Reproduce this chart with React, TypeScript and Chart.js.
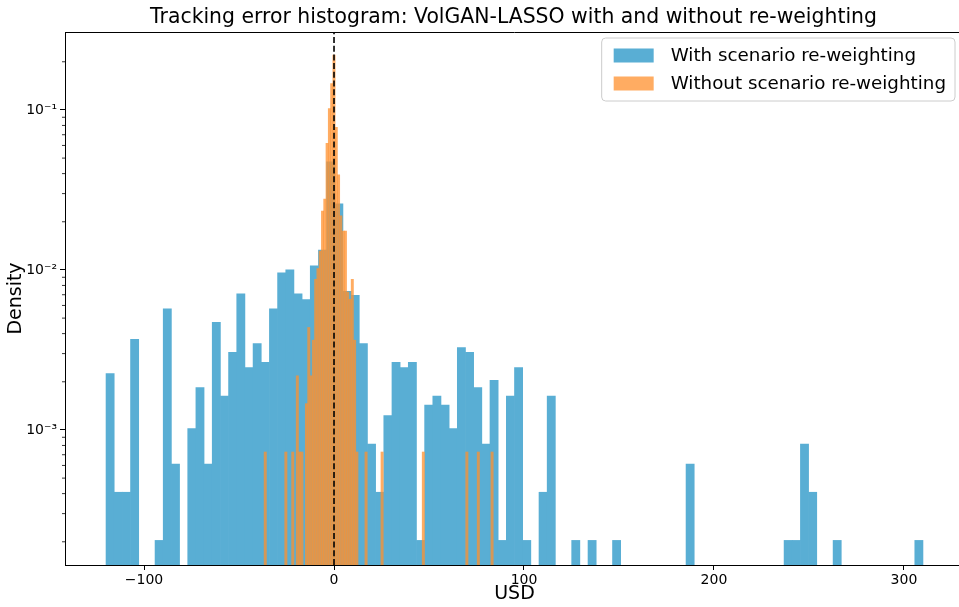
import React, { useEffect, useRef } from 'react';
import { Chart, registerables } from 'chart.js';

Chart.register(...registerables);

const TITLE = 'Tracking error histogram: VolGAN-LASSO with and without re-weighting';
const X_AXIS_LABEL = 'USD';
const Y_AXIS_LABEL = 'Density';
const LABEL_WITH = 'With scenario re-weighting';
const LABEL_WITHOUT = 'Without scenario re-weighting';

// Histogram WITH scenario re-weighting: 100 equal-width bins
const WITH_BIN_START = -120.0;
const WITH_BIN_WIDTH = 4.3;
const WITH_DENSITY = [
  0.00225, 0.000408, 0.000408, 0.00368, 0, 0, 0.000204, 0.00572, 0.000613, 0,
  0.00102, 0.00184, 0.000613, 0.0047, 0.00163, 0.00306, 0.00708, 0.00245, 0.00347, 0.00265,
  0.00572, 0.0096, 0.01, 0.00708, 0.00653, 0.0106, 0.0133, 0.0474, 0.0259, 0.00735,
  0.00694, 0.00347, 0.000817, 0.000408, 0.00123, 0.00265, 0.00245, 0.00265, 0.000204, 0.00143,
  0.00163, 0.00143, 0.00102, 0.00327, 0.00306, 0.00184, 0.000817, 0.00204, 0.000204, 0.00163,
  0.00245, 0.000204, 0, 0.000408, 0.00163, 0, 0, 0.000204, 0, 0.000204,
  0, 0, 0.000204, 0, 0, 0, 0, 0, 0, 0,
  0, 0.000613, 0, 0, 0, 0, 0, 0, 0, 0,
  0, 0, 0, 0.000204, 0.000204, 0.000817, 0.000408, 0, 0, 0.000204,
  0, 0, 0, 0, 0, 0, 0, 0, 0, 0.000204,
];

// Histogram WITHOUT scenario re-weighting: 100 equal-width bins
const WITHOUT_BIN_START = -36.8;
const WITHOUT_BIN_WIDTH = 1.206;
const WITHOUT_DENSITY = [
  0.000728, 0, 0, 0, 0, 0, 0, 0, 0, 0.000728,
  0, 0, 0.000728, 0, 0.00218, 0.000728, 0.000728, 0, 0.00146, 0.00437,
  0.00218, 0.00364, 0.00874, 0.0102, 0.0131, 0.0233, 0.0277, 0.0619, 0.102, 0.146,
  0.22, 0.0779, 0.0393, 0.0218, 0.0175, 0.0175, 0.00728, 0.00655, 0.00874, 0.00364,
  0.000728, 0, 0, 0, 0.000728, 0, 0, 0, 0, 0,
  0, 0.000728, 0, 0, 0, 0, 0, 0, 0, 0,
  0, 0, 0, 0, 0, 0, 0, 0, 0, 0.000728,
  0, 0, 0, 0, 0, 0, 0, 0, 0, 0,
  0, 0, 0, 0, 0, 0, 0, 0, 0.000728, 0,
  0, 0, 0, 0.000728, 0, 0, 0, 0, 0, 0.000728,
];

const ZERO_LINE_X = 0;

const X_MIN = -141.6;
const X_MAX = 331.6;
const Y_MIN = 1.432e-4;
const Y_MAX = 0.307;

const X_TICKS = [-100, 0, 100, 200, 300];
const Y_TICKS = [
  2e-4, 3e-4, 4e-4, 5e-4, 6e-4, 7e-4, 8e-4, 9e-4,
  1e-3, 2e-3, 3e-3, 4e-3, 5e-3, 6e-3, 7e-3, 8e-3, 9e-3,
  1e-2, 2e-2, 3e-2, 4e-2, 5e-2, 6e-2, 7e-2, 8e-2, 9e-2,
  1e-1, 2e-1,
];

const COLOR_WITH = 'rgb(89,174,212)';
const COLOR_WITHOUT = 'rgba(255,144,46,0.75)';
const FONT = '"DejaVu Sans", sans-serif';

const isMajor = (v: number) => {
  const l = Math.log10(v);
  return Math.abs(l - Math.round(l)) < 1e-9;
};

const SUP: Record<string, string> = {
  '-': '\u207B', '0': '\u2070', '1': '\u00B9', '2': '\u00B2', '3': '\u00B3',
  '4': '\u2074', '5': '\u2075', '6': '\u2076', '7': '\u2077', '8': '\u2078', '9': '\u2079',
};
const powLabel = (v: number) => {
  const e = String(Math.round(Math.log10(v)));
  return '10' + e.split('').map((c) => SUP[c]).join('');
};

const framePlugin = {
  id: 'mplFrame',
  afterDraw(chart: any) {
    const { ctx, chartArea: a, scales } = chart;
    ctx.save();
    // title centred over the axes
    ctx.fillStyle = '#000';
    ctx.font = `20.4px ${FONT}`;
    ctx.textAlign = 'center';
    ctx.textBaseline = 'middle';
    ctx.fillText(TITLE, (a.left + a.right) / 2 - 1, 18);
    // top spine
    ctx.strokeStyle = '#000';
    ctx.lineWidth = 1;
    ctx.beginPath();
    ctx.moveTo(a.left, Math.round(a.top) + 0.5);
    ctx.lineTo(a.right, Math.round(a.top) + 0.5);
    ctx.stroke();
    // minor y ticks
    ctx.lineWidth = 0.8;
    const ys = scales.y;
    for (const v of Y_TICKS) {
      if (isMajor(v)) continue;
      const py = ys.getPixelForValue(v);
      ctx.beginPath();
      ctx.moveTo(a.left - 3, py);
      ctx.lineTo(a.left, py);
      ctx.stroke();
    }
    ctx.restore();
  },
};

const legendPlugin = {
  id: 'mplLegend',
  afterDraw(chart: any) {
    const { ctx, chartArea: a } = chart;
    const fs = 18.3;
    const items = chart.data.datasets.filter((d: any) => d.showInLegend);
    items.sort((p: any, q: any) => p.legendRank - q.legendRank);
    ctx.save();
    ctx.font = `${fs}px ${FONT}`;
    const textW = Math.max(...items.map((it: any) => ctx.measureText(it.label).width));
    const padL = 12;
    const padR = 9;
    const padV = 8;
    const handleW = 40;
    const handleH = 14;
    const textPad = 17;
    const rowH = 19;
    const spacing = 9;
    const w = padL + padR + handleW + textPad + textW;
    const h = padV * 2 + items.length * rowH + (items.length - 1) * spacing;
    const right = 955;
    const top = a.top + 6;
    const left = right - w;
    const r = 4;
    ctx.beginPath();
    ctx.moveTo(left + r, top);
    ctx.lineTo(left + w - r, top);
    ctx.quadraticCurveTo(left + w, top, left + w, top + r);
    ctx.lineTo(left + w, top + h - r);
    ctx.quadraticCurveTo(left + w, top + h, left + w - r, top + h);
    ctx.lineTo(left + r, top + h);
    ctx.quadraticCurveTo(left, top + h, left, top + h - r);
    ctx.lineTo(left, top + r);
    ctx.quadraticCurveTo(left, top, left + r, top);
    ctx.closePath();
    ctx.fillStyle = 'rgba(255,255,255,0.8)';
    ctx.fill();
    ctx.strokeStyle = '#cccccc';
    ctx.lineWidth = 1;
    ctx.stroke();
    items.forEach((it: any, i: number) => {
      const cy = top + padV + rowH / 2 + i * (rowH + spacing);
      ctx.fillStyle = it.backgroundColor;
      ctx.fillRect(left + padL, cy - handleH / 2, handleW, handleH);
      ctx.fillStyle = '#000';
      ctx.textBaseline = 'middle';
      ctx.textAlign = 'left';
      ctx.fillText(it.label, left + padL + handleW + textPad, cy + 1);
    });
    ctx.restore();
  },
};

export default function App() {
  const ref = useRef<HTMLCanvasElement>(null);

  useEffect(() => {
    const canvas = ref.current;
    if (!canvas) return;
    Chart.defaults.font.family = FONT;

    const withData = WITH_DENSITY.map((d, i) => ({
      x: WITH_BIN_START + (i + 0.5) * WITH_BIN_WIDTH,
      y: d > 0 ? d : null,
    }));
    const withoutData = WITHOUT_DENSITY.map((d, i) => ({
      x: WITHOUT_BIN_START + (i + 0.5) * WITHOUT_BIN_WIDTH,
      y: d > 0 ? d : null,
    }));

    const chart = new Chart(canvas, {
      type: 'bar',
      data: {
        datasets: [
          {
            type: 'line',
            label: 'zero',
            data: [
              { x: ZERO_LINE_X, y: Y_MIN },
              { x: ZERO_LINE_X, y: Y_MAX },
            ],
            borderColor: '#000',
            borderWidth: 1.6,
            borderDash: [6, 2.7],
            pointRadius: 0,
            xAxisID: 'x',
            yAxisID: 'y',
            order: 0,
          } as any,
          {
            type: 'bar',
            label: LABEL_WITHOUT,
            data: withoutData,
            backgroundColor: COLOR_WITHOUT,
            borderWidth: 0,
            barPercentage: 1,
            categoryPercentage: 1,
            grouped: false,
            xAxisID: 'x2',
            yAxisID: 'y',
            order: 1,
            showInLegend: true,
            legendRank: 1,
          } as any,
          {
            type: 'bar',
            label: LABEL_WITH,
            data: withData,
            backgroundColor: COLOR_WITH,
            borderWidth: 0,
            barPercentage: 1,
            categoryPercentage: 1,
            grouped: false,
            xAxisID: 'x',
            yAxisID: 'y',
            order: 2,
            showInLegend: true,
            legendRank: 0,
          } as any,
        ],
      },
      options: {
        responsive: false,
        animation: false,
        devicePixelRatio: 1,
        layout: { padding: { top: 32, left: 0, right: 0, bottom: 0 } },
        plugins: {
          legend: { display: false },
          tooltip: { enabled: false },
          title: { display: false },
        },
        scales: {
          x: {
            type: 'linear',
            position: 'bottom',
            offset: false,
            min: X_MIN,
            max: X_MAX,
            afterBuildTicks: (s: any) => {
              s.ticks = X_TICKS.map((v) => ({ value: v }));
            },
            afterFit: (s: any) => {
              s.height = 42;
            },
            ticks: {
              autoSkip: false,
              maxRotation: 0,
              padding: 2,
              color: '#000',
              font: { family: FONT, size: 14 },
              callback: (v: any) => (v < 0 ? '\u2212' + Math.abs(v) : String(v)),
            },
            grid: {
              display: true,
              offset: false,
              drawOnChartArea: false,
              drawTicks: true,
              tickLength: 5,
              tickColor: '#000',
              tickWidth: 1,
            },
            border: { display: true, color: '#000', width: 1, z: 1 },
            title: {
              display: true,
              text: X_AXIS_LABEL,
              color: '#000',
              font: { family: FONT, size: 19 },
              padding: { top: 0, bottom: 2 },
            },
          },
          x2: {
            type: 'linear',
            position: 'bottom',
            offset: false,
            min: X_MIN,
            max: X_MAX,
            display: false,
            grid: { offset: false },
          },
          y: {
            type: 'logarithmic',
            position: 'left',
            min: Y_MIN,
            max: Y_MAX,
            afterBuildTicks: (s: any) => {
              s.ticks = Y_TICKS.map((v) => ({ value: v, major: isMajor(v) }));
            },
            afterFit: (s: any) => {
              s.width = 65;
            },
            ticks: {
              autoSkip: false,
              padding: 3,
              color: '#000',
              font: { family: FONT, size: 14 },
              callback: (v: any) => (isMajor(Number(v)) ? powLabel(Number(v)) : ''),
            },
            grid: {
              display: true,
              drawOnChartArea: false,
              drawTicks: true,
              tickLength: 5,
              tickWidth: 1,
              tickColor: (c: any) => (c.tick && isMajor(c.tick.value) ? '#000' : 'rgba(0,0,0,0)'),
            },
            border: { display: true, color: '#000', width: 1, z: 1 },
            title: {
              display: true,
              text: Y_AXIS_LABEL,
              color: '#000',
              font: { family: FONT, size: 19 },
              padding: { top: 5, bottom: 0 },
            },
          },
        },
      } as any,
      plugins: [framePlugin, legendPlugin],
    });

    return () => chart.destroy();
  }, []);

  return (
    <div
      style={{
        position: 'fixed',
        left: 0,
        top: 0,
        width: 959,
        height: 607,
        overflow: 'hidden',
        background: '#fff',
      }}
    >
      <canvas ref={ref} width={964} height={607} style={{ display: 'block', width: 964, height: 607 }} />
    </div>
  );
}
